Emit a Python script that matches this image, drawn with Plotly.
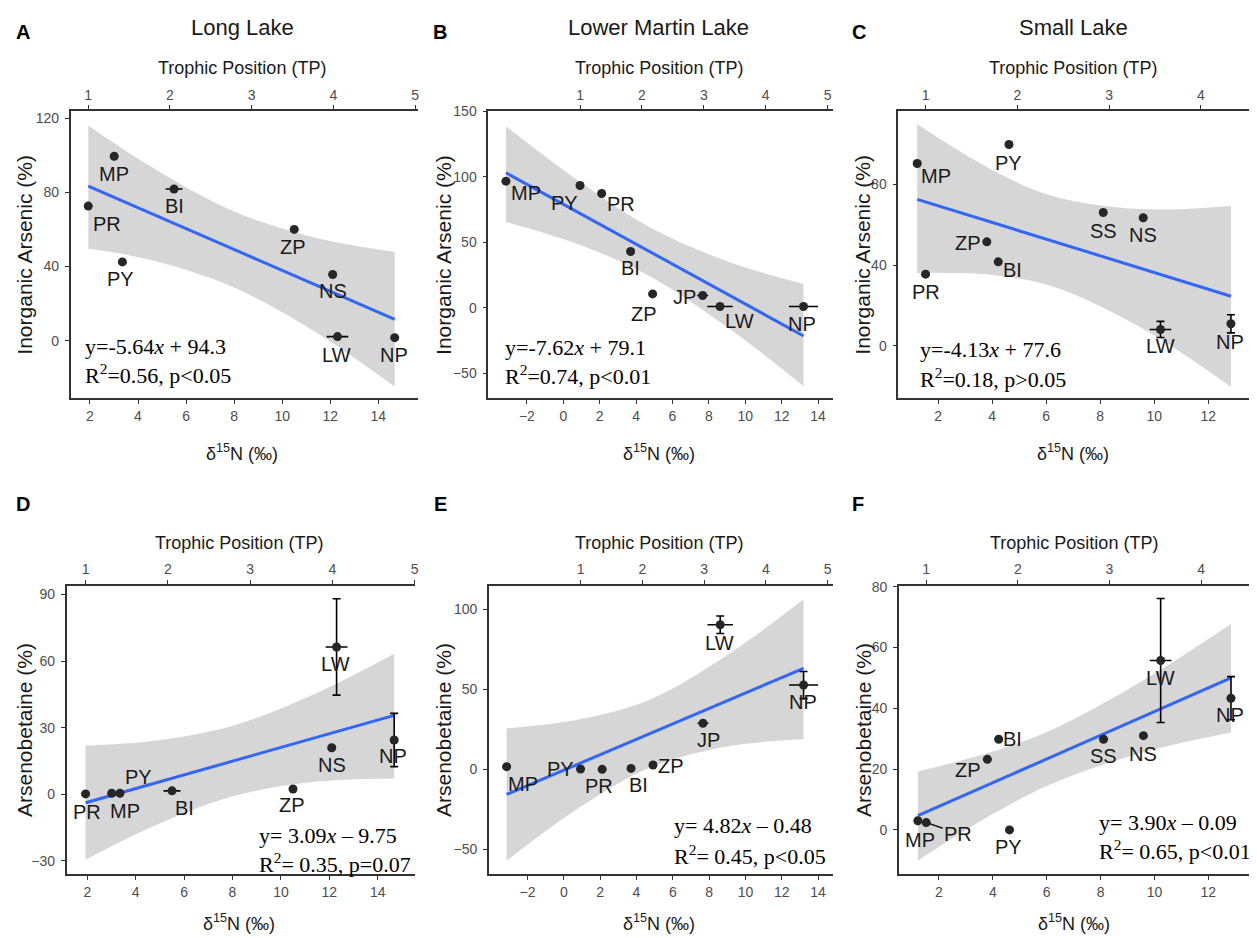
import plotly.graph_objects as go

# page pixels of the reference; plotly's page body adds an 8 px margin
PAGE_W, PAGE_H = 1257, 938
OFF = 8
W, H = PAGE_W - OFF, PAGE_H - OFF

# ---------------- data ----------------
long_species = ["MP", "PR", "PY", "BI", "ZP", "NS", "LW", "NP"]
long_d15n = [3.01, 1.93, 3.35, 5.50, 10.50, 12.10, 12.30, 14.68]
long_d15n_err = [0, 0, 0, 0.35, 0, 0, 0.45, 0.15]
long_inorg = [99.5, 72.6, 42.5, 81.8, 60.0, 35.7, 2.2, 1.6]
long_inorg_err = [0, 0, 0, 0, 0, 0, 0, 0]
long_ab = [0.5, 0.2, 0.5, 1.6, 2.4, 21.0, 66.4, 24.5]
long_ab_err = [0, 0, 0, 0, 0, 0, 21.7, 12.0]

martin_species = ["MP", "PY", "PR", "BI", "ZP", "JP", "LW", "NP"]
martin_d15n = [-3.15, 0.92, 2.11, 3.70, 4.91, 7.66, 8.61, 13.20]
martin_d15n_err = [0, 0, 0, 0, 0, 0.30, 0.70, 0.80]
martin_inorg = [96.7, 93.4, 87.3, 43.0, 10.6, 9.4, 1.0, 1.0]
martin_inorg_err = [0, 0, 0, 0, 0, 0, 0, 0]
martin_ab = [1.7, 0.2, 0.0, 0.6, 2.7, 28.8, 90.4, 52.7]
martin_ab_err = [0, 0, 0, 0, 0, 0, 5.5, 8.5]

small_species = ["MP", "PR", "PY", "ZP", "BI", "SS", "NS", "LW", "NP"]
small_d15n = [1.22, 1.53, 4.62, 3.80, 4.22, 8.11, 9.59, 10.23, 12.84]
small_d15n_err = [0, 0, 0, 0, 0, 0, 0, 0.40, 0.15]
small_inorg = [90.3, 35.5, 99.7, 51.5, 41.6, 66.0, 63.4, 8.1, 10.9]
small_inorg_err = [0, 0, 0, 0, 0, 0, 0, 4.0, 4.5]
small_ab = [3.0, 2.4, 0.0, 23.2, 29.8, 29.8, 31.0, 55.7, 43.3]
small_ab_err = [0, 0, 0, 0, 0, 0, 0, 20.4, 7.1]

# baseline species for trophic position (TP = 1) and enrichment factor
baseline = {"Long": "PR", "Martin": "PY", "Small": "PR"}
TEF = 3.4

# regression fits (from the equations printed on the panels)
fit_slope = [-5.64, -7.62, -4.13, 3.09, 4.82, 3.90]
fit_intercept = [94.3, 79.1, 77.6, -9.75, -0.48, -0.09]
eq_line1 = ["y=-5.64<i>x</i> + 94.3", "y=-7.62<i>x</i> + 79.1", "y=-4.13<i>x</i> + 77.6",
            "y= 3.09<i>x</i> – 9.75", "y= 4.82<i>x</i> – 0.48", "y= 3.90<i>x</i> – 0.09"]
eq_line2 = ["R<sup>2</sup>=0.56, p&lt;0.05", "R<sup>2</sup>=0.74, p&lt;0.01", "R<sup>2</sup>=0.18, p&gt;0.05",
            "R<sup>2</sup>= 0.35, p=0.07", "R<sup>2</sup>= 0.45, p&lt;0.05", "R<sup>2</sup>= 0.65, p&lt;0.01"]

# 95% confidence bands
band_A_x = [1.93, 4.5, 7.9, 11.3, 14.68]
band_A_lo = [49.7, 43.6, 29.2, 5.4, -24.8]
band_A_hi = [116.1, 94.2, 70.2, 55.8, 47.9]
band_B_x = [-3.15, 0.9, 4.75, 9.0, 13.2]
band_B_lo = [65.6, 48.1, 24.2, -14.6, -59.7]
band_B_hi = [138.5, 96.3, 61.6, 35.6, 18.2]
band_C_x = [1.22, 4.0, 6.24, 9.5, 12.84]
band_C_lo = [36.1, 35.1, 29.4, 9.1, -20.3]
band_C_hi = [109.7, 87.1, 74.2, 67.7, 69.3]
band_D_x = [1.93, 4.5, 7.9, 11.3, 14.68]
band_D_lo = [-29.5, -15.5, -1.2, 5.6, 7.2]
band_D_hi = [22.0, 23.8, 30.6, 44.8, 63.4]
band_E_x = [-3.15, 0.9, 4.75, 9.0, 13.2]
band_E_lo = [-57.1, -23.6, 1.1, 14.3, 18.8]
band_E_hi = [25.6, 31.3, 43.7, 71.5, 106.3]
band_F_x = [1.22, 4.0, 6.24, 9.5, 12.84]
band_F_lo = [-10.1, 5.2, 15.3, 25.3, 32.0]
band_F_hi = [19.2, 25.8, 33.1, 48.7, 67.7]

panel_letters = ["A", "B", "C", "D", "E", "F"]
lake_titles = ["Long Lake", "Lower Martin Lake", "Small Lake"]
y_titles = ["Inorganic Arsenic (%)", "Arsenobetaine (%)"]
top_title = "Trophic Position (TP)"
x_title = "δ<sup>15</sup>N (‰)"

x_ticks_long = [2, 4, 6, 8, 10, 12, 14]
x_ticks_martin = [-2, 0, 2, 4, 6, 8, 10, 12, 14]
x_ticks_small = [2, 4, 6, 8, 10, 12]
tp_ticks_5 = [1, 2, 3, 4, 5]
tp_ticks_4 = [1, 2, 3, 4]
y_ticks = [[0, 40, 80, 120], [-50, 0, 50, 100, 150], [0, 40, 80],
           [-30, 0, 30, 60, 90], [-50, 0, 50, 100], [0, 20, 40, 60, 80]]

lakes = {
    "Long": dict(sp=long_species, x=long_d15n, xe=long_d15n_err),
    "Martin": dict(sp=martin_species, x=martin_d15n, xe=martin_d15n_err),
    "Small": dict(sp=small_species, x=small_d15n, xe=small_d15n_err),
}
panels = [
    dict(lake="Long", y=long_inorg, ye=long_inorg_err, band=(band_A_x, band_A_lo, band_A_hi), xt=x_ticks_long, tt=tp_ticks_5),
    dict(lake="Martin", y=martin_inorg, ye=martin_inorg_err, band=(band_B_x, band_B_lo, band_B_hi), xt=x_ticks_martin, tt=tp_ticks_5),
    dict(lake="Small", y=small_inorg, ye=small_inorg_err, band=(band_C_x, band_C_lo, band_C_hi), xt=x_ticks_small, tt=tp_ticks_4),
    dict(lake="Long", y=long_ab, ye=long_ab_err, band=(band_D_x, band_D_lo, band_D_hi), xt=x_ticks_long, tt=tp_ticks_5),
    dict(lake="Martin", y=martin_ab, ye=martin_ab_err, band=(band_E_x, band_E_lo, band_E_hi), xt=x_ticks_martin, tt=tp_ticks_5),
    dict(lake="Small", y=small_ab, ye=small_ab_err, band=(band_F_x, band_F_lo, band_F_hi), xt=x_ticks_small, tt=tp_ticks_4),
]

# ---------------- layout geometry (page pixels) ----------------
geom = [
    dict(dom=(70.7, 418), row=(111, 398.3), xr=(1.20, 15.65), yr=(-31.1, 123.9)),
    dict(dom=(488.3, 833), row=(111, 398.3), xr=(-4.12, 14.82), yr=(-69.1, 150.3)),
    dict(dom=(898.3, 1252), row=(111, 398.3), xr=(0.52, 13.62), yr=(-26.0, 116.3)),
    dict(dom=(66.7, 415), row=(585.7, 874.3), xr=(1.15, 15.54), yr=(-36.0, 94.0)),
    dict(dom=(489, 833), row=(585.7, 874.3), xr=(-4.12, 14.82), yr=(-65.6, 114.8)),
    dict(dom=(899, 1252), row=(585.7, 874.3), xr=(0.52, 13.62), yr=(-14.6, 80.3)),
]
# label offsets (pixels, right / down) for point labels
label_off = [
    {"MP": (0, 18), "PR": (19, 18), "PY": (-2, 17), "BI": (0, 17), "ZP": (-1, 18), "NS": (0, 17), "LW": (-1, 18), "NP": (-1, 17)},
    {"MP": (20, 12), "PY": (-16, 17), "PR": (19, 11), "BI": (0, 16), "ZP": (-9, 20), "JP": (-18, 1), "LW": (20, 14), "NP": (-2, 17)},
    {"MP": (19, 13), "PR": (0, 18), "PY": (0, 18), "ZP": (-19, 1), "BI": (14, 8), "SS": (0, 18), "NS": (0, 17), "LW": (0, 17), "NP": (-1, 18)},
    {"PR": (1, 18), "MP": (13, 18), "PY": (19, -16), "BI": (13, 17), "ZP": (-1, 16), "NS": (0, 17), "LW": (-1, 17), "NP": (-1, 16)},
    {"MP": (16, 17), "PY": (-20, 0), "PR": (-3, 17), "BI": (7, 17), "ZP": (18, 1), "JP": (6, 17), "LW": (-1, 18), "NP": (-1, 17)},
    {"MP": (2, 19), "PR": (32, 11), "ZP": (-19, 11), "BI": (14, 0), "PY": (-1, 17), "SS": (0, 17), "NS": (0, 18), "LW": (0, 17), "NP": (-1, 17)},
]
leaders = {5: ["PR"]}
eq_pos = [(82.7, 346, 374), (502.7, 347, 375), (918, 349, 378),
          (256.7, 835, 863), (671.7, 825, 855), (1096.7, 822, 850)]
letter_pos = [(23, 32), (440, 32), (859, 32), (22.5, 504), (440, 504), (858, 504)]
ytitle_x = [25, 443.3, 863, 24, 443, 863]
toptitle_y = [68, 68, 68, 543, 543, 543]
xtitle_y = [452, 452, 452, 922, 922, 922]

SANS = "Liberation Sans, Arial, sans-serif"
SERIF = "Liberation Serif, Times New Roman, serif"
AXC = "#333333"
TICKC = "#4D4D4D"


def px(x):
    return (x - OFF) / W


def py(y):
    return 1 - (y - OFF) / H


def note(x, y, text, size, family=SANS, color="#1a1a1a", xanchor="center", angle=0):
    return dict(x=px(x), y=py(y), xref="paper", yref="paper", text=text, showarrow=False,
                xanchor=xanchor, yanchor="middle", textangle=angle,
                font=dict(family=family, size=size, color=color))


fig = go.Figure()
layout = dict(width=W, height=H, margin=dict(l=0, r=0, t=0, b=0, autoexpand=False),
              paper_bgcolor="white", plot_bgcolor="white", showlegend=False,
              font=dict(family=SANS, color="#1a1a1a"))
annotations = []

for i, (p, g) in enumerate(zip(panels, geom)):
    lk = lakes[p["lake"]]
    nb, nt, ny = 2 * i + 1, 2 * i + 2, i + 1
    xb = "x" if nb == 1 else f"x{nb}"
    xt = f"x{nt}"
    ya = "y" if ny == 1 else f"y{ny}"
    common = dict(xaxis=xb, yaxis=ya, showlegend=False, hoverinfo="skip")

    bx, blo, bhi = p["band"]
    fig.add_trace(go.Scatter(x=bx, y=blo, mode="lines", line=dict(width=0, shape="spline"), **common))
    fig.add_trace(go.Scatter(x=bx, y=bhi, mode="lines", line=dict(width=0, shape="spline"),
                             fill="tonexty", fillcolor="rgba(153,153,153,0.4)", **common))
    xmin, xmax = min(lk["x"]), max(lk["x"])
    fig.add_trace(go.Scatter(x=[xmin, xmax],
                             y=[fit_intercept[i] + fit_slope[i] * xmin, fit_intercept[i] + fit_slope[i] * xmax],
                             mode="lines", line=dict(color="#3366FF", width=3), **common))
    fig.add_trace(go.Scatter(x=lk["x"], y=p["y"], mode="markers",
                             marker=dict(color="#262626", size=9),
                             error_x=dict(type="data", array=lk["xe"], visible=True, width=0, thickness=1.6, color="black"),
                             error_y=dict(type="data", array=p["ye"], visible=True, width=4, thickness=1.6, color="black"),
                             **common))
    fig.add_trace(go.Scatter(x=[None], y=[None], xaxis=xt, yaxis=ya, showlegend=False, hoverinfo="skip"))

    base = lk["x"][lk["sp"].index(baseline[p["lake"]])]
    tr = [(g["xr"][0] - base) / TEF + 1, (g["xr"][1] - base) / TEF + 1]
    dom = [px(g["dom"][0]), min(px(g["dom"][1]), 1.0)]
    ydom = [py(g["row"][1]), py(g["row"][0])]
    axcommon = dict(showline=True, linecolor=AXC, linewidth=1.6, ticks="outside", ticklen=4,
                    tickwidth=1.2, tickcolor=AXC, showgrid=False, zeroline=False, automargin=False,
                    tickfont=dict(family=SANS, size=14, color=TICKC))
    layout["xaxis" if nb == 1 else f"xaxis{nb}"] = dict(domain=dom, anchor=ya, range=list(g["xr"]),
                                                         tickmode="array", tickvals=p["xt"], **axcommon)
    layout[f"xaxis{nt}"] = dict(overlaying=xb, anchor=ya, side="top", range=tr,
                                tickmode="array", tickvals=p["tt"], **axcommon)
    layout["yaxis" if ny == 1 else f"yaxis{ny}"] = dict(domain=ydom, anchor=xb, range=list(g["yr"]),
                                                         tickmode="array", tickvals=y_ticks[i],
                                                         ticklabelstandoff=3, **axcommon)

    # point labels
    for s, xv, yv in zip(lk["sp"], lk["x"], p["y"]):
        dx, dy = label_off[i][s]
        lab_font = dict(family=SANS, size=20, color="#1a1a1a")
        if s in leaders.get(i, []):
            annotations.append(dict(x=xv, y=yv, xref=xb, yref=ya, text=s, showarrow=True,
                                    ax=dx, ay=dy, arrowhead=0, arrowwidth=1.5, standoff=3,
                                    arrowcolor="#1a1a1a", font=lab_font))
        else:
            annotations.append(dict(x=xv, y=yv, xref=xb, yref=ya, text=s, showarrow=False,
                                    xanchor="center", yanchor="middle", xshift=dx, yshift=-dy,
                                    font=lab_font))
    # equations
    ex, ey1, ey2 = eq_pos[i]
    annotations.append(note(ex, ey1, eq_line1[i], 22, family=SERIF, color="black", xanchor="left"))
    annotations.append(note(ex, ey2, eq_line2[i], 22, family=SERIF, color="black", xanchor="left"))
    # titles
    cx = (g["dom"][0] + g["dom"][1]) / 2 - 2
    annotations.append(note(cx, toptitle_y[i], top_title, 18))
    annotations.append(note(cx, xtitle_y[i], x_title, 18))
    annotations.append(note(ytitle_x[i], (g["row"][0] + g["row"][1]) / 2, y_titles[i // 3], 21, angle=-90))
    lx, ly = letter_pos[i]
    annotations.append(note(lx, ly, f"<b>{panel_letters[i]}</b>", 20, color="black"))
    if i < 3:
        annotations.append(note(cx, 28, lake_titles[i], 22))

layout["annotations"] = annotations
fig.update_layout(**layout)
fig.write_html("out.html")
